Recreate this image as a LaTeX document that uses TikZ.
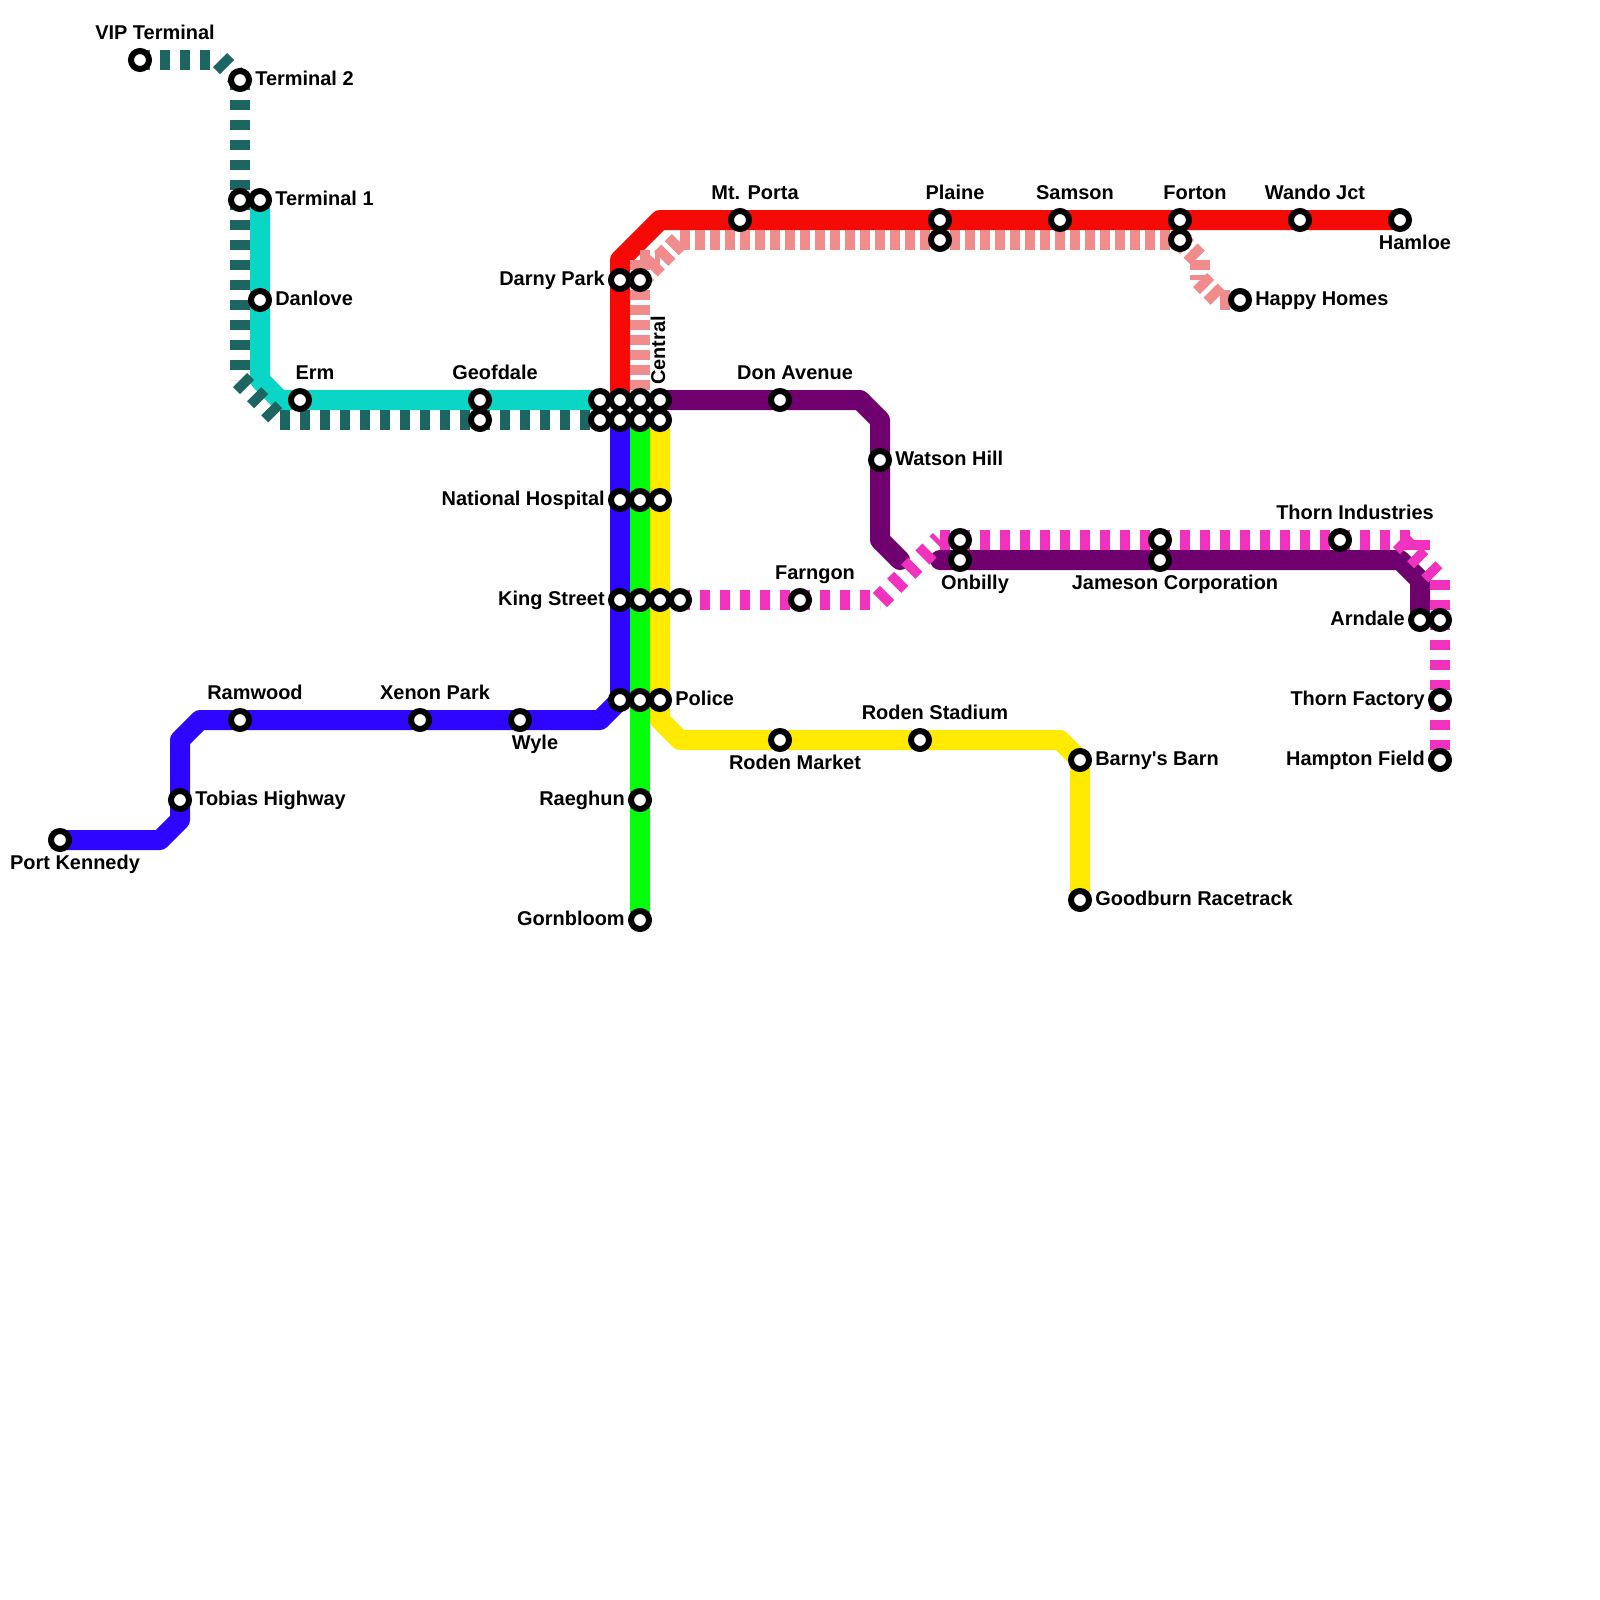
\documentclass[tikz,border=0pt]{standalone}
\usepackage{fontspec}
\setmainfont{Liberation Sans}[Ligatures=TeXOff]
\usetikzlibrary{backgrounds}
\tikzset{
  solidline/.style={line width=0.5cm, line cap=round, line join=round},
  dashA/.style={line width=0.5cm, dash pattern=on 0.25cm off 0.25cm},
  dashB/.style={line width=0.5cm, dash pattern=on 0.25cm off 0.125cm},
  stn/.style={circle, draw=black, fill=white, line width=0.15cm, minimum size=0.45cm, inner sep=0pt},
  lbl/.style={font=\bfseries\fontsize{14.2pt}{16pt}\selectfont, inner sep=0pt, text=black},
  lblr/.style={lbl, anchor=base west, xshift=0.375cm, yshift=-0.125cm},
  lbll/.style={lbl, anchor=base east, xshift=-0.375cm, yshift=-0.125cm},
  lbla/.style={lbl, anchor=base, xshift=0.375cm, yshift=0.52cm},
  lblb/.style={lbl, anchor=base, xshift=0.375cm, yshift=-0.74cm},
}
\definecolor{tealdark}{HTML}{1C6560}
\definecolor{tealline}{HTML}{0AD6C6}
\definecolor{redline}{HTML}{F50A05}
\definecolor{salmonline}{HTML}{F08C8C}
\definecolor{blueline}{HTML}{2E05FF}
\definecolor{greenline}{HTML}{05FF0A}
\definecolor{yellowline}{HTML}{FFEA00}
\definecolor{purpleline}{HTML}{70006E}
\definecolor{pinkline}{HTML}{F032BE}
\begin{document}
\begin{tikzpicture}[x=0.5cm,y=-0.5cm]
\useasboundingbox (0,0) rectangle (80,80);
% stations
\node[stn] (vip) at (7,3) {};
\node[stn] (t2) at (12,4) {};
\node[stn] (t1a) at (12,10) {};
\node[stn] (t1b) at (13,10) {};
\node[stn] (danlove) at (13,15) {};
\node[stn] (erm) at (15,20) {};
\node[stn] (geofa) at (24,20) {};
\node[stn] (geofb) at (24,21) {};
\node[stn] (c1) at (30,20) {};
\node[stn] (c2) at (30,21) {};
\node[stn] (c3) at (31,20) {};
\node[stn] (c4) at (31,21) {};
\node[stn] (c5) at (32,20) {};
\node[stn] (c6) at (32,21) {};
\node[stn] (c7) at (33,20) {};
\node[stn] (c8) at (33,21) {};
\node[stn] (darnya) at (31,14) {};
\node[stn] (darnyb) at (32,14) {};
\node[stn] (porta) at (37,11) {};
\node[stn] (plainea) at (47,11) {};
\node[stn] (plaineb) at (47,12) {};
\node[stn] (samson) at (53,11) {};
\node[stn] (fortona) at (59,11) {};
\node[stn] (fortonb) at (59,12) {};
\node[stn] (wando) at (65,11) {};
\node[stn] (hamloe) at (70,11) {};
\node[stn] (happy) at (62,15) {};
\node[stn] (don) at (39,20) {};
\node[stn] (watson) at (44,23) {};
\node[stn] (onba) at (48,27) {};
\node[stn] (onbb) at (48,28) {};
\node[stn] (jama) at (58,27) {};
\node[stn] (jamb) at (58,28) {};
\node[stn] (thorni) at (67,27) {};
\node[stn] (arna) at (71,31) {};
\node[stn] (arnb) at (72,31) {};
\node[stn] (thornf) at (72,35) {};
\node[stn] (hampton) at (72,38) {};
\node[stn] (nata) at (31,25) {};
\node[stn] (natb) at (32,25) {};
\node[stn] (natc) at (33,25) {};
\node[stn] (kinga) at (31,30) {};
\node[stn] (kingb) at (32,30) {};
\node[stn] (kingc) at (33,30) {};
\node[stn] (kingd) at (34,30) {};
\node[stn] (farngon) at (40,30) {};
\node[stn] (pola) at (31,35) {};
\node[stn] (polb) at (32,35) {};
\node[stn] (polc) at (33,35) {};
\node[stn] (ramwood) at (12,36) {};
\node[stn] (xenon) at (21,36) {};
\node[stn] (wyle) at (26,36) {};
\node[stn] (tobias) at (9,40) {};
\node[stn] (port) at (3,42) {};
\node[stn] (raeghun) at (32,40) {};
\node[stn] (gorn) at (32,46) {};
\node[stn] (market) at (39,37) {};
\node[stn] (stadium) at (46,37) {};
\node[stn] (barny) at (54,38) {};
\node[stn] (goodburn) at (54,45) {};
% labels
\node[lbla] (viplbl) at (vip) {VIP Terminal};
\node[lblr] (t2lbl) at (t2) {Terminal 2};
\node[lblr] (t1lbl) at (t1b) {Terminal 1};
\node[lblr] (danlovelbl) at (danlove) {Danlove};
\node[lbla] (ermlbl) at (erm) {Erm};
\node[lbla] (geoflbl) at (geofa) {Geofdale};
\node[lbll] (darnylbl) at (darnya) {Darny Park};
\node[lbl, rotate=90, anchor=base west] (centrallbl) at (33.25,19.25) {Central};
\node[lbla] (portalbl) at (porta) {Mt. Porta};
\node[lbla] (plainelbl) at (plainea) {Plaine};
\node[lbla] (samsonlbl) at (samson) {Samson};
\node[lbla] (fortonlbl) at (fortona) {Forton};
\node[lbla] (wandolbl) at (wando) {Wando Jct};
\node[lblb] (hamloelbl) at (hamloe) {Hamloe};
\node[lblr] (happylbl) at (happy) {Happy Homes};
\node[lbla] (donlbl) at (don) {Don Avenue};
\node[lblr] (watsonlbl) at (watson) {Watson Hill};
\node[lblb] (onblbl) at (onbb) {Onbilly};
\node[lblb] (jamlbl) at (jamb) {Jameson Corporation};
\node[lbla] (thornilbl) at (thorni) {Thorn Industries};
\node[lbll] (arnlbl) at (arna) {Arndale};
\node[lbll] (thornflbl) at (thornf) {Thorn Factory};
\node[lbll] (hamptonlbl) at (hampton) {Hampton Field};
\node[lbll] (natlbl) at (nata) {National Hospital};
\node[lbll] (kinglbl) at (kinga) {King Street};
\node[lbla] (farngonlbl) at (farngon) {Farngon};
\node[lblr] (pollbl) at (polc) {Police};
\node[lbla] (ramwoodlbl) at (ramwood) {Ramwood};
\node[lbla] (xenonlbl) at (xenon) {Xenon Park};
\node[lblb] (wylelbl) at (wyle) {Wyle};
\node[lblr] (tobiaslbl) at (tobias) {Tobias Highway};
\node[lblb] (portlbl) at (port) {Port Kennedy};
\node[lbll] (raeghunlbl) at (raeghun) {Raeghun};
\node[lbll] (gornlbl) at (gorn) {Gornbloom};
\node[lblb] (marketlbl) at (market) {Roden Market};
\node[lbla] (stadiumlbl) at (stadium) {Roden Stadium};
\node[lblr] (barnylbl) at (barny) {Barny's Barn};
\node[lblr] (goodburnlbl) at (goodburn) {Goodburn Racetrack};
\begin{scope}[on background layer]
% solid lines
\draw[solidline, redline] (hamloe.center) -- (33,11) -- (31,13) -- (c3.center);
\draw[solidline, tealline] (t1b.center) -- (13,19) -- (14,20) -- (c1.center);
\draw[solidline, blueline] (port.center) -- (8,42) -- (9,41) -- (9,37) -- (10,36) -- (30,36) -- (pola.center) -- (c4.center);
\draw[solidline, yellowline] (c8.center) -- (33,36) -- (34,37) -- (53,37) -- (barny.center) -- (goodburn.center);
\draw[solidline, greenline] (c6.center) -- (gorn.center);
\draw[solidline, purpleline] (c7.center) -- (43,20) -- (44,21) -- (44,27) -- (45,28);
\draw[solidline, purpleline] (47,28) -- (70,28) -- (71,29) -- (arna.center);
% dashed lines, each leg starts its own dashes
\draw[dashA, tealdark] (vip.center) -- (11,3);
\draw[dashA, tealdark] (11,3) -- (t2.center);
\draw[dashA, tealdark] (t2.center) -- (12,19);
\draw[dashA, tealdark] (12,19) -- (14,21);
\draw[dashA, tealdark] (14,21) -- (c2.center);
\draw[dashB, salmonline] (32,13) -- (c5.center);
\draw[dashB, salmonline] (32,13) -- (33,13);
\draw[dashB, salmonline] (32,14) -- (34,12);
\draw[dashB, salmonline] (34,12) -- (fortonb.center);
\draw[dashB, salmonline] (fortonb.center) -- (60,13);
\draw[dashB, salmonline] (60,13) -- (60,14);
\draw[dashB, salmonline] (60,14) -- (61,15);
\draw[dashB, salmonline] (61,15) -- (happy.center);
\draw[dashA, pinkline] (kingd.center) -- (44,30);
\draw[dashA, pinkline] (44,30) -- (47,27);
\draw[dashA, pinkline] (47,27) -- (71,27);
\draw[dashA, pinkline] (71,27) -- (71,28);
\draw[dashA, pinkline] (70,27) -- (72,29);
\draw[dashA, pinkline] (72,29) -- (hampton.center);
\end{scope}
\end{tikzpicture}
\end{document}
